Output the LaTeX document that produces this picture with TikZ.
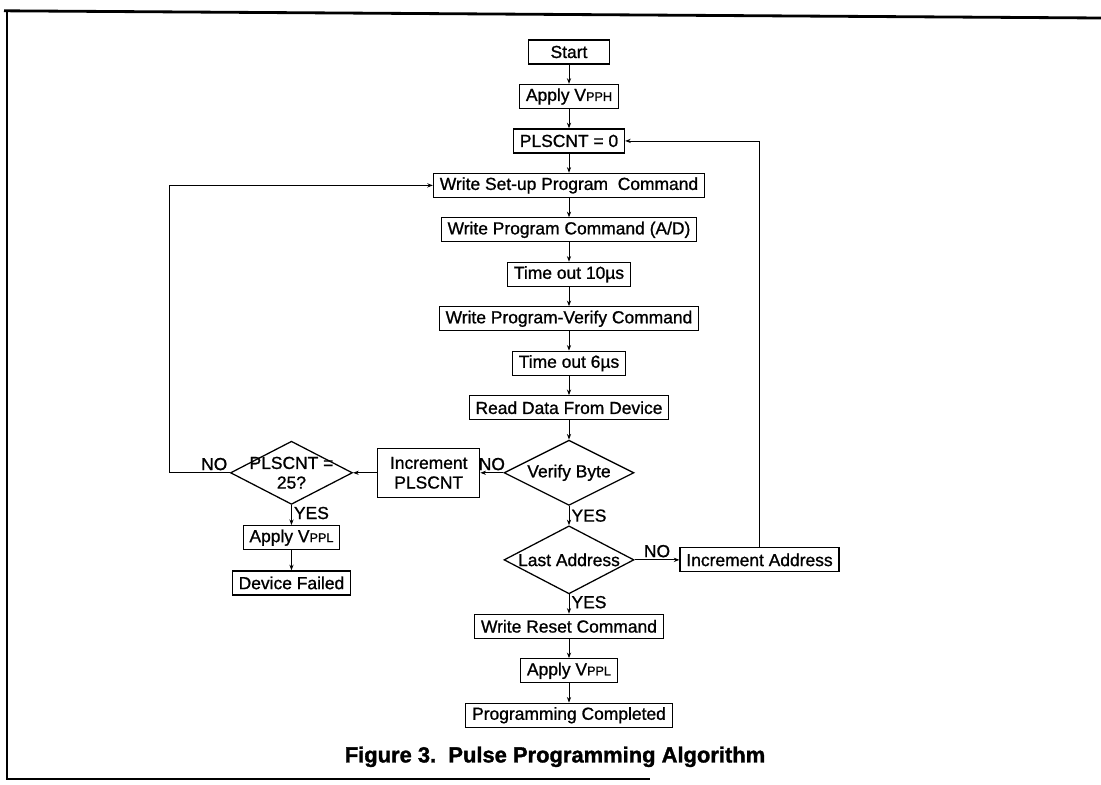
\documentclass[tikz,border=0pt]{standalone}
\usepackage{fontspec}
\setmainfont{Liberation Sans}
\newfontfamily\chartfont{Liberation Sans}[RawFeature={embolden=1}]
\newfontfamily\titlefont{Liberation Sans Bold}[RawFeature={embolden=1.5}]
\usetikzlibrary{arrows.meta, positioning, shapes.geometric}

% supply voltage with small capital suffix
\newcommand{\Vsub}[1]{V{\fontsize{9}{10}\selectfont #1}}

\begin{document}
\begin{tikzpicture}[node distance=0.48cm and 0.6cm, every node/.style={font=\chartfont\fontsize{12.4}{14}\selectfont}]

% Styles
\tikzstyle{box} = [draw, line width=0.9pt, inner xsep=4.5pt, inner ysep=1.5pt, minimum height=0.6cm, fill=white]
\tikzstyle{decision} = [draw, diamond, line width=0.9pt, inner sep=0pt, minimum width=3.25cm, minimum height=1.63cm]
\tikzstyle{arrow} = [-{Stealth[length=4pt, width=3pt]}, line width=0.6pt]
\tikzstyle{answer} = [inner sep=1.5pt]

\useasboundingbox (0,0) rectangle (27.525,-19.625);

% Frame
\draw[line width=2pt] (0.175,-0.27) -- (0.175,-19.475) -- (16.25,-19.475);
\draw[line width=2pt] (0.1,-0.27) -- (27.525,-0.45);

% Nodes
\node[box, minimum width=2.03cm] (start) at (14.225,-1.3) {Start};
\node[box, below=of start] (applyh) {Apply \Vsub{PPH}};
\node[box, below=of applyh] (clear) {PLSCNT = 0};
\node[box, below=of clear] (setup) {Write Set-up Program\ \ Command};
\node[box, below=of setup] (program) {Write Program Command (A/D)};
\node[box, below=of program] (wait10) {Time out 10µs};
\node[box, below=of wait10] (pverify) {Write Program-Verify Command};
\node[box, below=of pverify] (wait6) {Time out 6µs};
\node[box, below=of wait6] (read) {Read Data From Device};
\node[decision, below=of read, label=center:{Verify Byte}] (verify) {};
\node[decision, below=of verify, minimum height=1.7cm, label=center:{Last Address}] (last) {};
\node[box, below=of last] (reset) {Write Reset Command};
\node[box, below=of reset] (applyl) {Apply \Vsub{PPL}};
\node[box, below=of applyl] (done) {Programming Completed};

\node[box, left=0.575cm of verify, minimum width=2.55cm, minimum height=1.23cm, align=center] (incpls) {Increment\\PLSCNT};
\node[decision, left=of incpls, minimum width=3.05cm, minimum height=1.58cm, label={[align=center]center:{PLSCNT =\\25?}}] (maxpls) {};
\node[box, below=0.5cm of maxpls] (failvpp) {Apply \Vsub{PPL}};
\node[box, below=0.5cm of failvpp] (failed) {Device Failed};
\node[box, right=1.12cm of last] (incaddr) {Increment Address};

\node[font=\titlefont\fontsize{15.6}{18}\selectfont] (caption) at (13.875,-18.92) {Figure 3.\ \ Pulse Programming Algorithm};

% Arrows
\draw[arrow] (start) -- (applyh);
\draw[arrow] (applyh) -- (clear);
\draw[arrow] (clear) -- (setup);
\draw[arrow] (setup) -- (program);
\draw[arrow] (program) -- (wait10);
\draw[arrow] (wait10) -- (pverify);
\draw[arrow] (pverify) -- (wait6);
\draw[arrow] (wait6) -- (read);
\draw[arrow] (read) -- (verify);

\draw[arrow] (verify) -- node[answer, above] {NO} (incpls);
\draw[arrow] (incpls) -- (maxpls);
\draw[arrow] (maxpls.west) -- node[answer, pos=0, above left] {NO} ++(-1.5,0) |- (setup.west);
\draw[arrow] (maxpls) -- node[answer, right, pos=0.4] {YES} (failvpp);
\draw[arrow] (failvpp) -- (failed);

\draw[arrow] (verify) -- node[answer, right] {YES} (last);
\draw[arrow] (last) -- node[answer, above] {NO} (incaddr);
\draw[arrow] (incaddr.north) |- (clear.east);
\draw[arrow] (last) -- node[answer, right, pos=0.4] {YES} (reset);
\draw[arrow] (reset) -- (applyl);
\draw[arrow] (applyl) -- (done);

\end{tikzpicture}
\end{document}
